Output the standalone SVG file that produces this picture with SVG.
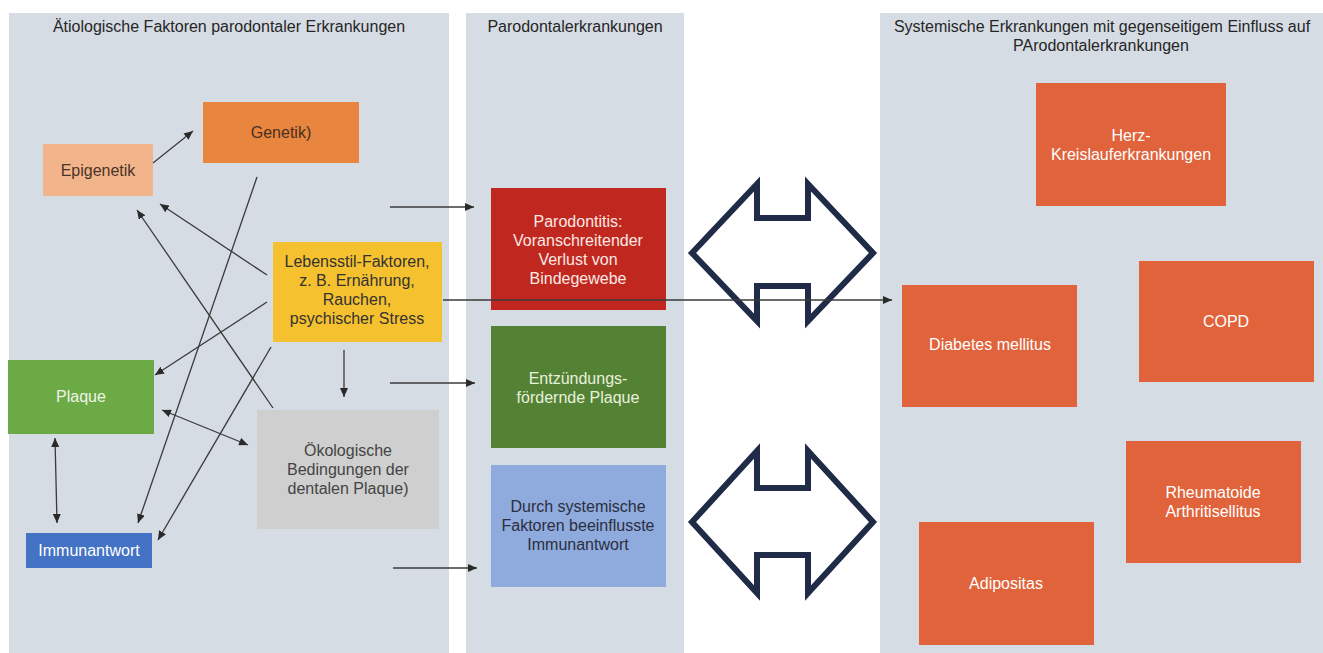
<svg xmlns="http://www.w3.org/2000/svg" width="1323" height="653" viewBox="0 0 1323 653">
<style>
text{font-family:"Liberation Sans",Arial,sans-serif;font-size:16px;text-anchor:middle}
.title{fill:#262626}
.panel{fill:#D6DCE4}
.dk{fill:#333333}
.wt{fill:#FFFFFF}
.conn{stroke:#3A3A3A;stroke-width:1.3;fill:none}
.big{fill:#FFFFFF;stroke:#1F2B47;stroke-width:6;stroke-linejoin:miter}
.sys{fill:#E0633B}
</style>
<defs>
<marker id="ah" markerUnits="userSpaceOnUse" markerWidth="10" markerHeight="8" refX="9" refY="4" orient="auto-start-reverse">
<path d="M0,0 L9,4 L0,8 Z" fill="#2A2A2A"/>
</marker>
</defs>
<rect width="1323" height="653" fill="#FFFFFF"/>
<g id="panels">
<rect class="panel" x="9" y="13" width="440" height="640"/>
<rect class="panel" x="466" y="13" width="218" height="640"/>
<rect class="panel" x="880" y="13" width="443" height="640"/>
<text class="title" x="229" y="32">Ätiologische Faktoren parodontaler Erkrankungen</text>
<text class="title" x="575" y="32">Parodontalerkrankungen</text>
<text class="title" x="1102" y="32">Systemische Erkrankungen mit gegenseitigem Einfluss auf</text>
<text class="title" x="1101" y="51">PArodontalerkrankungen</text>
</g>
<g id="genetik"><rect x="203" y="102" width="156" height="61" fill="#E8853E"/><text x="281" y="138" fill="#4A3020">Genetik)</text></g>
<g id="epigenetik"><rect x="43" y="144" width="110" height="52" fill="#F2B58B"/><text x="98" y="176" fill="#4A3428">Epigenetik</text></g>
<g id="lebensstil"><rect x="273" y="242" width="169" height="100" fill="#F6C12E"/>
<text x="357" y="267" class="dk">Lebensstil-Faktoren,</text><text x="357" y="286" class="dk">z. B. Ernährung,</text><text x="357" y="305" class="dk">Rauchen,</text><text x="357" y="324" class="dk">psychischer Stress</text></g>
<g id="plaque"><rect x="8" y="360" width="146" height="74" fill="#6CAA45"/><text x="81" y="402" fill="#EEF5E6">Plaque</text></g>
<g id="oekologische"><rect x="257" y="410" width="182" height="119" fill="#CFCFCF"/>
<text x="348" y="456" fill="#444444">Ökologische</text><text x="348" y="475" fill="#444444">Bedingungen der</text><text x="348" y="494" fill="#444444">dentalen Plaque)</text></g>
<g id="immunantwort"><rect x="26" y="533" width="126" height="35" fill="#4472C4"/><text x="89" y="556" class="wt">Immunantwort</text></g>
<g id="parodontitis"><rect x="491" y="188" width="175" height="122" fill="#C0271E"/>
<text x="578" y="227" fill="#FBE9E6">Parodontitis:</text><text x="578" y="246" fill="#FBE9E6">Voranschreitender</text><text x="578" y="265" fill="#FBE9E6">Verlust von</text><text x="578" y="284" fill="#FBE9E6">Bindegewebe</text></g>
<g id="entzuendung"><rect x="491" y="326" width="175" height="122" fill="#548235"/>
<text x="578" y="384" fill="#E8F1DD">Entzündungs-</text><text x="578" y="403" fill="#E8F1DD">fördernde Plaque</text></g>
<g id="durch"><rect x="491" y="465" width="175" height="122" fill="#8FAADC"/>
<text x="578" y="512" fill="#2A2F40">Durch systemische</text><text x="578" y="531" fill="#2A2F40">Faktoren beeinflusste</text><text x="578" y="550" fill="#2A2F40">Immunantwort</text></g>
<g id="herz"><rect class="sys" x="1036" y="83" width="190" height="123"/><text x="1131" y="141" class="wt">Herz-</text><text x="1131" y="160" class="wt">Kreislauferkrankungen</text></g>
<g id="copd"><rect class="sys" x="1139" y="261" width="175" height="121"/><text x="1226" y="327" class="wt">COPD</text></g>
<g id="diabetes"><rect class="sys" x="902" y="285" width="175" height="122"/><text x="990" y="350" class="wt">Diabetes mellitus</text></g>
<g id="rheuma"><rect class="sys" x="1126" y="441" width="175" height="122"/><text x="1213" y="498" class="wt">Rheumatoide</text><text x="1213" y="517" class="wt">Arthritisellitus</text></g>
<g id="adipositas"><rect class="sys" x="919" y="522" width="175" height="123"/><text x="1006" y="589" class="wt">Adipositas</text></g>
<g id="bigarrows">
<polygon class="big" points="692,253 757,184 757,218 808,218 808,184 873,253 808,321 808,286 757,286 757,321"/>
<polygon class="big" points="692,522 757,451 757,488 808,488 808,451 873,522 808,593 808,555 757,555 757,593"/>
</g>
<g id="connectors">
<line class="conn" x1="153" y1="163" x2="193" y2="131" marker-end="url(#ah)"/>
<line class="conn" x1="267" y1="275" x2="160" y2="204" marker-end="url(#ah)"/>
<line class="conn" x1="273" y1="408" x2="137" y2="210" marker-end="url(#ah)"/>
<line class="conn" x1="257" y1="177" x2="138" y2="523" marker-end="url(#ah)"/>
<line class="conn" x1="267" y1="302" x2="155" y2="375" marker-end="url(#ah)"/>
<line class="conn" x1="271" y1="347" x2="158" y2="540" marker-end="url(#ah)"/>
<line class="conn" x1="344" y1="350" x2="344" y2="397" marker-end="url(#ah)"/>
<line class="conn" x1="162" y1="410" x2="248" y2="445" marker-start="url(#ah)" marker-end="url(#ah)"/>
<line class="conn" x1="55" y1="438" x2="57" y2="523" marker-start="url(#ah)" marker-end="url(#ah)"/>
<line class="conn" x1="390" y1="207" x2="474" y2="207" marker-end="url(#ah)"/>
<line class="conn" x1="390" y1="383" x2="475" y2="383" marker-end="url(#ah)"/>
<line class="conn" x1="393" y1="568" x2="477" y2="568" marker-end="url(#ah)"/>
<line class="conn" x1="443" y1="300" x2="892" y2="300" marker-end="url(#ah)"/>
</g>
</svg>
